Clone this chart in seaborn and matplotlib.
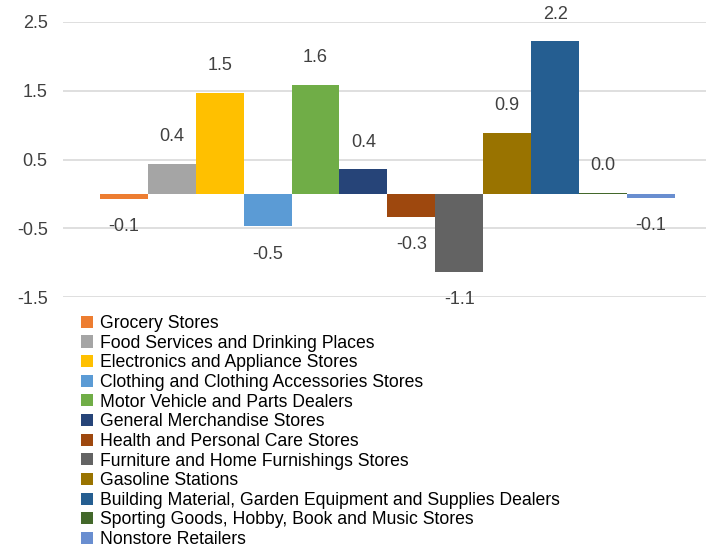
import matplotlib
matplotlib.use("Agg")
import matplotlib.pyplot as plt
import seaborn as sns
import pandas as pd

# Month-over-month change in retail sales by store type (%)
stores = [
    "Grocery Stores",
    "Food Services and Drinking Places",
    "Electronics and Appliance Stores",
    "Clothing and Clothing Accessories Stores",
    "Motor Vehicle and Parts Dealers",
    "General Merchandise Stores",
    "Health and Personal Care Stores",
    "Furniture and Home Furnishings Stores",
    "Gasoline Stations",
    "Building Material, Garden Equipment and Supplies Dealers",
    "Sporting Goods, Hobby, Book and Music Stores",
    "Nonstore Retailers",
]
changes = [-0.07, 0.44, 1.47, -0.47, 1.59, 0.36, -0.33, -1.13, 0.89, 2.22, 0.02, -0.06]
colors = [
    "#ED7D31", "#A5A5A5", "#FFC000", "#5B9BD5", "#70AD47", "#264478",
    "#9E480E", "#636363", "#997300", "#255E91", "#43682B", "#698ED0",
]
y_ticks = [-1.5, -0.5, 0.5, 1.5, 2.5]

df = pd.DataFrame({"store": stores, "change": changes})

sns.set_theme(style="white")
plt.rcParams["font.family"] = ["Liberation Sans", "DejaVu Sans"]
plt.rcParams["axes.unicode_minus"] = False

text_color = "#404040"

fig = plt.figure(figsize=(7.06, 5.49), dpi=100)
ax = fig.add_axes([63 / 706, 1 - 297 / 549, 643 / 706, 275 / 549])

sns.barplot(
    data=df, x="store", y="change", hue="store", order=stores, hue_order=stores,
    palette=colors, width=1.0, saturation=1.0, legend=True, ax=ax,
    linewidth=0, dodge=False,
)

ax.set_ylim(-1.5, 2.5)
ax.set_yticks(y_ticks)
ax.set_yticklabels([f"{t:.1f}" for t in y_ticks], fontsize=13, color=text_color)
ax.set_xlim(-1.27, 12.15)
ax.set_xticks([])
ax.set_xlabel("")
ax.set_ylabel("")
ax.tick_params(axis="y", length=0, pad=11)
ax.yaxis.grid(True, color="#D9D9D9", linewidth=1.2)
ax.set_axisbelow(True)
for s in ax.spines.values():
    s.set_visible(False)

# value labels just outside the end of each bar
for i, v in enumerate(changes):
    off = 27 if v >= 0 else -28
    ax.annotate(f"{v:.1f}", xy=(i, v), xytext=(0, off), textcoords="offset pixels",
                ha="center", va="center", fontsize=13, color=text_color,
                annotation_clip=False)

handles, labels = ax.get_legend_handles_labels()
ax.get_legend().remove()
fig.legend(
    handles, labels, loc="upper left", bbox_to_anchor=(81 / 706, 1 - 315 / 549),
    frameon=False, fontsize=12.7, labelcolor="black", handlelength=0.68,
    handleheight=0.68, handletextpad=0.4, labelspacing=0.15, borderpad=0,
    borderaxespad=0,
)

fig.savefig("out.png", dpi=100, facecolor="white")
